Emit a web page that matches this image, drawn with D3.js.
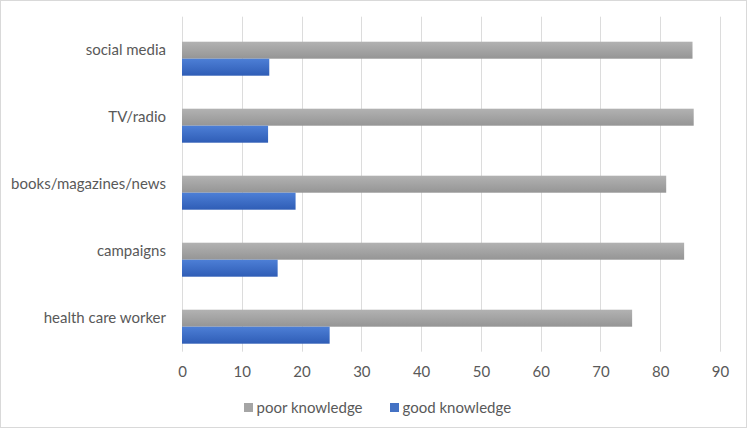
<!DOCTYPE html>
<html>
<head>
<meta charset="utf-8">
<script src="https://cdn.jsdelivr.net/npm/d3@7"></script>
<style>
  html, body { margin: 0; padding: 0; background: #fff; }
  svg { display: block; font-family: Lato, "Open Sans", sans-serif; }
</style>
</head>
<body>
<svg id="chart" width="750" height="433"></svg>
<script>
const categories = ["social media", "TV/radio", "books/magazines/news", "campaigns", "health care worker"];
const poorKnowledge = [85.4, 85.6, 81.0, 84.0, 75.3];
const goodKnowledge = [14.6, 14.4, 19.0, 16.0, 24.7];
const seriesNames = ["poor knowledge", "good knowledge"];
const xTicks = [0, 10, 20, 30, 40, 50, 60, 70, 80, 90];

const svg = d3.select("#chart");
const W = 750, H = 433;
const textColor = "#595959";
const fontSize = 15;

// chart border
svg.append("rect").attr("x", 0.5).attr("y", 0.5).attr("width", 746).attr("height", 427)
  .attr("fill", "#fff").attr("stroke", "#d9d9d9");

const defs = svg.append("defs");
function grad(id, top, bottom) {
  const g = defs.append("linearGradient").attr("id", id).attr("x1", 0).attr("y1", 0).attr("x2", 0).attr("y2", 1);
  g.append("stop").attr("offset", "0%").attr("stop-color", top);
  g.append("stop").attr("offset", "100%").attr("stop-color", bottom);
}
grad("gPoor", "#b2b2b2", "#959595");
grad("gGood", "#4d7fd6", "#2f5db6");

const x = d3.scaleLinear().domain([0, 90]).range([182, 720]);
const y = d3.scaleBand().domain(categories).range([16.7, 351.7]);
const slot = d3.scaleBand().domain([0, 1, 2]).range([8, y.bandwidth() - 8]);

// gridlines
svg.append("g").selectAll("line").data(xTicks).join("line")
  .attr("x1", d => Math.round(x(d)) + 0.5).attr("x2", d => Math.round(x(d)) + 0.5)
  .attr("y1", y.range()[0]).attr("y2", y.range()[1])
  .attr("stroke", "#dcdcdc").attr("stroke-width", 1);

// x axis tick labels
const xAxis = d3.axisBottom(x).tickValues(xTicks).tickSize(0).tickPadding(0);
const gx = svg.append("g").attr("transform", `translate(0, 371.7)`).call(xAxis);
gx.select(".domain").remove();
gx.selectAll("text").attr("dy", "0.35em").attr("fill", textColor)
  .style("font-size", fontSize + "px").style("font-family", "Lato, sans-serif");

// category labels
const yAxis = d3.axisLeft(y).tickSize(0).tickPadding(0);
const gy = svg.append("g").attr("transform", `translate(166, 0)`).call(yAxis);
gy.select(".domain").remove();
gy.selectAll("text").attr("fill", textColor)
  .style("font-size", fontSize + "px").style("font-family", "Lato, sans-serif");

// bars
const series = [
  { name: seriesNames[0], values: poorKnowledge, fill: "url(#gPoor)", slot: 1 },
  { name: seriesNames[1], values: goodKnowledge, fill: "url(#gGood)", slot: 2 }
];
series.forEach(s => {
  svg.append("g").selectAll("rect").data(categories).join("rect")
    .attr("x", x(0))
    .attr("y", (c) => y(c) + slot(s.slot))
    .attr("width", (c, i) => x(s.values[i]) - x(0))
    .attr("height", slot.bandwidth())
    .attr("fill", s.fill);
});

// legend
const legendItems = [
  { name: seriesNames[0], color: "#a5a5a5", x: 244 },
  { name: seriesNames[1], color: "#4472c4", x: 390 }
];
const lg = svg.append("g");
legendItems.forEach(it => {
  lg.append("rect").attr("x", it.x).attr("y", 403).attr("width", 9).attr("height", 9).attr("fill", it.color);
  lg.append("text").attr("x", it.x + 12.5).attr("y", 407.5).attr("dy", "0.35em")
    .attr("fill", textColor).style("font-size", fontSize + "px").text(it.name);
});
</script>
</body>
</html>
